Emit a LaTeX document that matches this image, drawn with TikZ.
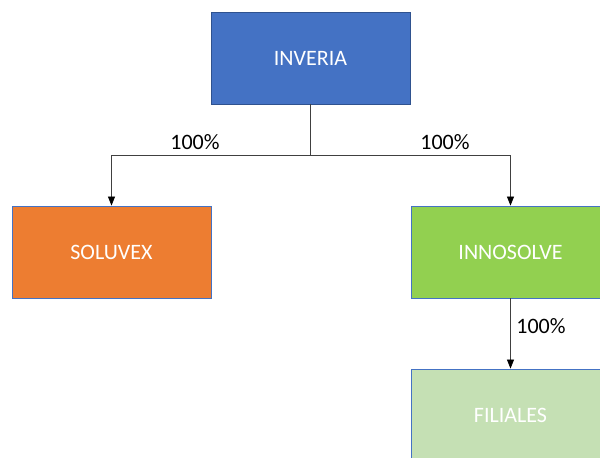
\documentclass[tikz,border=0pt]{standalone}
\usepackage{fontspec}
\setmainfont{Carlito}
\usepackage{xcolor}
\usetikzlibrary{arrows.meta,positioning}
\definecolor{myblue}{RGB}{68,114,196}
\definecolor{mydarkblue}{RGB}{47,82,143}
\definecolor{myorange}{RGB}{237,125,49}
\definecolor{mygreen}{RGB}{146,208,80}
\definecolor{mylightgreen}{RGB}{197,224,180}
\definecolor{mygray}{RGB}{64,64,64}
\tikzset{
  company/.style={draw=myblue,line width=0.8pt,minimum width=199pt,minimum height=92pt,
    inner sep=0pt,text=white,font=\fontsize{22}{26}\selectfont},
  share/.style={font=\fontsize{22}{26}\selectfont,text=black},
  link/.style={mygray,line width=0.7pt},
  own/.style={link,-{Triangle[width=7pt,length=9pt,fill=black,color=black]}}
}
\begin{document}
\begin{tikzpicture}[x=1pt,y=-1pt]
\useasboundingbox (0,0) rectangle (600,458);

\node[company,fill=myblue,draw=mydarkblue] (inveria) at (310.5,58) {INVERIA};
\node[company,fill=myorange] (soluvex) at (111.5,252) {SOLUVEX};
\node[company,fill=mygreen] (innosolve) at (510.5,252) {INNOSOLVE};
\node[company,fill=mylightgreen] (filiales) at (510.5,415) {FILIALES};

\coordinate (split) at (310.5,155);
\draw[link] (inveria) -- (split);
\draw[own] (split) -| (soluvex);
\draw[own] (split) -| (innosolve);
\draw[own] (innosolve) -- (filiales);

\node[share] (pleft) at (195,142) {100\%};
\node[share] (pright) at (445,142) {100\%};
\node[share] (pdown) at (541,326) {100\%};
\end{tikzpicture}
\end{document}
